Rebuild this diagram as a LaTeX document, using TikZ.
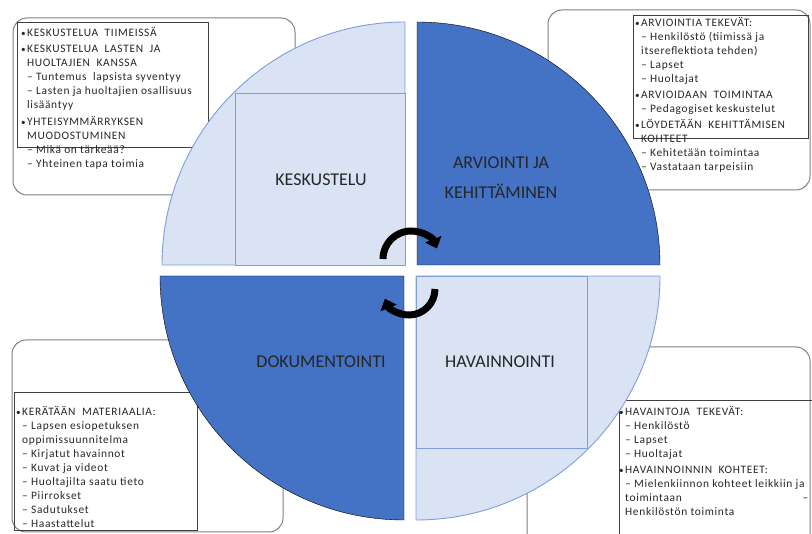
\documentclass[tikz,border=0pt]{standalone}
\usepackage{fontspec}
\setmainfont{Carlito}
\newfontfamily\luettelofont[LetterSpace=6]{Carlito}
\usetikzlibrary{arrows.meta}
\definecolor{tummasin}{HTML}{4472C4}
\definecolor{vaaleasin}{HTML}{DAE3F3}
\definecolor{reunasin}{HTML}{7F9ED8}
\definecolor{kehysharmaa}{HTML}{808080}
\definecolor{tekstiharmaa}{HTML}{262626}
\newcommand{\pallo}{\llap{\scalebox{.8}{•}\hspace{1.5pt}}}

\begin{document}
\begin{tikzpicture}[x=1pt,y=-1pt,
    kehys/.style={draw=kehysharmaa, line width=1pt, rounded corners=14pt},
    laatikko/.style={draw=black!75, line width=.8pt},
    luettelo/.style={anchor=north west, inner sep=0pt, align=left, text=tekstiharmaa,
      font=\luettelofont\fontsize{11.4}{14}\selectfont, execute at begin node=\strut},
    vaalea/.style={fill=vaaleasin, draw=reunasin, line width=.9pt},
    tumma/.style={fill=tummasin},
    otsikko/.style={text=black!85, font=\fontsize{18}{30}\selectfont, align=center},
    kierto/.style={line width=7pt, draw=black, -{Triangle[width=17pt,length=10pt]}}]
  \useasboundingbox (0,0) rectangle (812,534);

  \draw[kehys] (13,18) rectangle (295,195);
  \draw[laatikko] (17,22) rectangle (208,147);
  \node[luettelo] (keskusteluteksti) at (27,27) {\pallo KESKUSTELUA\ \ TIIMEISSÄ\\[2.5pt]
    \pallo KESKUSTELUA\ \ LASTEN\ \ JA\\
    HUOLTAJIEN\ \ KANSSA\\
    – Tuntemus\ \ lapsista syventyy\\
    – Lasten ja huoltajien osallisuus\\
    lisääntyy\\[2.5pt]
    \pallo YHTEISYMMÄRRYKSEN\\
    MUODOSTUMINEN\\
    – Mikä on tärkeää?\\
    – Yhteinen tapa toimia};

  \draw[kehys] (548,10) rectangle (810,190);
  \draw[laatikko] (633,15) rectangle (808,138);
  \node[luettelo] (arviointiteksti) at (641,17) {\pallo ARVIOINTIA TEKEVÄT:\\
    – Henkilöstö (tiimissä ja\\
    itsereflektiota tehden)\\
    – Lapset\\
    – Huoltajat\\[2.5pt]
    \pallo ARVIOIDAAN\ \ TOIMINTAA\\
    – Pedagogiset keskustelut\\[2pt]
    \pallo LÖYDETÄÄN\ \ KEHITTÄMISEN\\
    KOHTEET\\
    – Kehitetään toimintaa\\
    – Vastataan tarpeisiin};

  \draw[kehys] (12,340) rectangle (283,532);
  \draw[laatikko] (14,392) rectangle (197,530);
  \node[luettelo] (dokumentointiteksti) at (22,406) {\pallo KERÄTÄÄN\ \ MATERIAALIA:\\
    – Lapsen esiopetuksen\\
    oppimissuunnitelma\\
    – Kirjatut havainnot\\
    – Kuvat ja videot\\
    – Huoltajilta saatu tieto\\
    – Piirrokset\\
    – Sadutukset\\
    – Haastattelut};

  \draw[kehys] (527,347) rectangle (810,550);
  \draw[laatikko] (619,400) rectangle (816,540);
  \node[luettelo] (havainnointiteksti) at (625,406) {\pallo HAVAINTOJA\ \ TEKEVÄT:\\
    – Henkilöstö\\
    – Lapset\\
    – Huoltajat\\[2.5pt]
    \pallo HAVAINNOINNIN\ \ KOHTEET:\\
    – Mielenkiinnon kohteet leikkiin ja\\
    \makebox[183pt][l]{toimintaan\hfill –}\\
    Henkilöstön toiminta};

  \draw[vaalea] (405,265) -- (162,265) arc[start angle=180, end angle=270, radius=243] -- cycle;
  \draw[vaalea] (235,93) rectangle (405,265);
  \draw[tumma] (417,265) -- (417,22) arc[start angle=270, end angle=360, radius=243] -- cycle;
  \draw[vaalea] (416,276) -- (660,276) arc[start angle=0, end angle=90, radius=244] -- cycle;
  \draw[vaalea] (416,276) rectangle (587,448);
  \draw[tumma] (404,276) -- (404,520) arc[start angle=90, end angle=180, radius=244] -- cycle;

  \node[otsikko] (keskustelu) at (321,180) {KESKUSTELU};
  \node[otsikko] (arviointi) at (501,178) {ARVIOINTI JA\\KEHITTÄMINEN};
  \node[otsikko] (dokumentointi) at (321,362) {DOKUMENTOINTI};
  \node[otsikko] (havainnointi) at (500,362) {HAVAINNOINTI};

  \draw[kierto] (383,259) arc[start angle=180, end angle=338, radius=28];
  \draw[kierto] (435,289) arc[start angle=0, end angle=158, radius=26];
\end{tikzpicture}
\end{document}
